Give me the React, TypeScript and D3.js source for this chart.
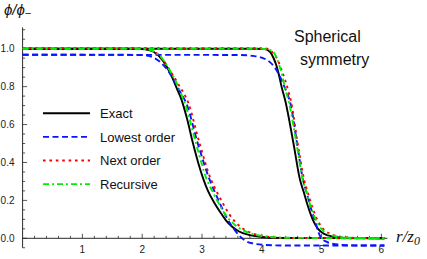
import React, { useEffect, useRef } from 'react'
import * as d3 from 'd3'

type Pt = [number, number]

// left group (smaller bubble)
const exactA: Pt[] = [[0, 1], [1.9, 1], [2.05, 0.997], [2.19, 0.984], [2.35, 0.935], [2.47, 0.87], [2.58, 0.79], [2.66, 0.729], [2.75, 0.63], [2.85, 0.5], [2.94, 0.395], [3.02, 0.315], [3.1, 0.25], [3.2, 0.19], [3.3, 0.14], [3.4, 0.095], [3.5, 0.062], [3.62, 0.036], [3.78, 0.018], [4.0, 0.007], [4.3, 0.002], [6.05, 0]]
const lowestA: Pt[] = [[0, 0.968], [2.0, 0.967], [2.1, 0.962], [2.19, 0.953], [2.3, 0.93], [2.41, 0.893], [2.53, 0.835], [2.63, 0.775], [2.74, 0.71], [2.93, 0.5], [3.13, 0.307], [3.22, 0.24], [3.32, 0.17], [3.42, 0.105], [3.52, 0.055], [3.62, 0.015], [3.72, -0.012], [3.85, -0.027], [4.05, -0.035], [4.4, -0.038], [6.05, -0.038]]
const nextA: Pt[] = [[0, 1.003], [2.0, 1.003], [2.1, 0.998], [2.24, 0.976], [2.35, 0.94], [2.46, 0.887], [2.6, 0.815], [2.77, 0.715], [2.96, 0.5], [3.15, 0.31], [3.24, 0.25], [3.34, 0.19], [3.45, 0.13], [3.56, 0.085], [3.7, 0.048], [3.88, 0.022], [4.1, 0.008], [4.4, 0.002], [6.05, 0]]
const recursiveA: Pt[] = [[0, 1], [1.95, 1], [2.05, 0.998], [2.19, 0.986], [2.33, 0.95], [2.44, 0.897], [2.55, 0.835], [2.66, 0.756], [2.71, 0.715], [2.9, 0.5], [3.08, 0.31], [3.17, 0.25], [3.27, 0.19], [3.38, 0.13], [3.5, 0.085], [3.64, 0.05], [3.82, 0.025], [4.05, 0.01], [4.4, 0.003], [6.05, 0]]

// right group (larger bubble)
const exactB: Pt[] = [[0, 1], [3.9, 1], [4.05, 0.998], [4.14, 0.982], [4.19, 0.955], [4.24, 0.915], [4.28, 0.87], [4.33, 0.8], [4.39, 0.729], [4.53, 0.5], [4.64, 0.307], [4.7, 0.245], [4.77, 0.17], [4.85, 0.1], [4.94, 0.05], [5.05, 0.022], [5.2, 0.009], [5.45, 0.002], [6.05, 0]]
const lowestB: Pt[] = [[0, 0.968], [3.6, 0.967], [3.85, 0.962], [3.97, 0.956], [4.07, 0.943], [4.14, 0.928], [4.22, 0.9], [4.3, 0.855], [4.37, 0.805], [4.43, 0.76], [4.48, 0.71], [4.59, 0.5], [4.69, 0.307], [4.75, 0.24], [4.82, 0.16], [4.89, 0.09], [4.95, 0.03], [5.0, -0.002], [5.07, -0.016], [5.14, -0.026], [5.36, -0.035], [5.6, -0.038], [6.05, -0.038]]
const nextB: Pt[] = [[0, 1.003], [4.0, 1.003], [4.11, 0.998], [4.19, 0.976], [4.28, 0.931], [4.33, 0.888], [4.39, 0.835], [4.445, 0.775], [4.49, 0.72], [4.6, 0.5], [4.71, 0.307], [4.77, 0.24], [4.85, 0.16], [4.94, 0.09], [5.04, 0.045], [5.17, 0.02], [5.35, 0.007], [5.6, 0.002], [6.05, 0]]
const recursiveB: Pt[] = [[0, 1], [3.95, 1], [4.1, 0.997], [4.2, 0.98], [4.25, 0.95], [4.3, 0.905], [4.34, 0.86], [4.39, 0.79], [4.445, 0.729], [4.58, 0.5], [4.685, 0.307], [4.75, 0.24], [4.82, 0.165], [4.9, 0.1], [4.99, 0.052], [5.1, 0.025], [5.25, 0.01], [5.5, 0.003], [6.05, 0]]

const legendLabels = ['Exact', 'Lowest order', 'Next order', 'Recursive']
const xTickValues = [1, 2, 3, 4, 5, 6]
const yTickValues = [0, 0.2, 0.4, 0.6, 0.8, 1.0]

const styles = [
  { color: '#000000', dash: '' },
  { color: '#0a14ff', dash: '6 3.5' },
  { color: '#ff0000', dash: '2.6 3.8' },
  { color: '#00ee00', dash: '6 3 2 3' }
]

const W = 427
const H = 259
const x = d3.scaleLinear().domain([0, 6.1]).range([22.6, 22.6 + 6.1 * 59.8])
const y = d3.scaleLinear().domain([0, 1]).range([238.3, 48.7])

const App = () => {
  const ref = useRef<SVGSVGElement>(null)

  useEffect(() => {
    const svg = d3.select(ref.current)
    svg.selectAll('*').remove()
    const axisColor = '#2b2b2b'
    const font = 'Liberation Sans, Arial, sans-serif'

    // axes
    const ax = svg.append('g')
    ax.append('line').attr('x1', x(0)).attr('x2', x(6.1)).attr('y1', y(0)).attr('y2', y(0))
      .attr('stroke', axisColor).attr('stroke-width', 1)
    ax.append('line').attr('x1', x(0)).attr('x2', x(0)).attr('y1', y(-0.05)).attr('y2', y(1.112))
      .attr('stroke', axisColor).attr('stroke-width', 1)

    const xMinor = d3.range(1, 31).map(i => i * 0.2)
    xMinor.forEach(v => {
      const major = Math.abs(v - Math.round(v)) < 1e-6
      ax.append('line').attr('x1', x(v)).attr('x2', x(v))
        .attr('y1', y(0)).attr('y2', y(0) - (major ? 4.5 : 2.5))
        .attr('stroke', axisColor).attr('stroke-width', 0.8)
    })
    const yMinor = d3.range(-1, 23).map(i => i * 0.05)
    yMinor.forEach(v => {
      const major = Math.abs(v * 5 - Math.round(v * 5)) < 1e-6
      ax.append('line').attr('y1', y(v)).attr('y2', y(v))
        .attr('x1', x(0)).attr('x2', x(0) + (major ? 4.5 : 2.5))
        .attr('stroke', axisColor).attr('stroke-width', 0.8)
    })
    xTickValues.forEach(v => {
      ax.append('text').attr('x', x(v)).attr('y', 253).attr('text-anchor', 'middle')
        .attr('font-family', font).attr('font-size', 10).attr('fill', '#222').text(String(v))
    })
    yTickValues.forEach(v => {
      ax.append('text').attr('x', 14.5).attr('y', y(v) + 3.6).attr('text-anchor', 'end')
        .attr('font-family', font).attr('font-size', 10).attr('fill', '#222').text(v.toFixed(1))
    })

    // curves
    const line = d3.line<Pt>().x(d => x(d[0])).y(d => y(d[1])).curve(d3.curveMonotoneX)
    const series = [[exactA, exactB], [lowestA, lowestB], [nextA, nextB], [recursiveA, recursiveB]]
    series.forEach((pair, i) => {
      pair.forEach(pts => {
        svg.append('path').attr('d', line(pts) as string).attr('fill', 'none')
          .attr('stroke', styles[i].color).attr('stroke-width', 1.9)
          .attr('stroke-dasharray', styles[i].dash || null)
      })
    })

    // legend
    legendLabels.forEach((lab, i) => {
      const ly = 113.3 + i * 23.6
      svg.append('line').attr('x1', 43).attr('x2', 90).attr('y1', ly).attr('y2', ly)
        .attr('stroke', styles[i].color).attr('stroke-width', 1.9)
        .attr('stroke-dasharray', styles[i].dash || null)
      svg.append('text').attr('x', 100).attr('y', ly + 4.8)
        .attr('font-family', font).attr('font-size', 13).attr('fill', '#111').text(lab)
    })

    // annotation
    svg.append('text').attr('x', 294).attr('y', 41.7).attr('font-family', font)
      .attr('font-size', 16).attr('fill', '#111').text('Spherical')
    svg.append('text').attr('x', 300).attr('y', 65).attr('font-family', font)
      .attr('font-size', 16).attr('fill', '#111').text('symmetry')

    // axis labels
    const yl = svg.append('text').attr('x', 4).attr('y', 15).attr('font-family', font)
      .attr('font-size', 15).attr('font-style', 'italic').attr('fill', '#111')
    yl.append('tspan').text('ϕ/ϕ')
    yl.append('tspan').attr('font-size', 11).attr('dy', 2).text('−')

    const xl = svg.append('text').attr('x', 396).attr('y', 242).attr('font-family', 'Liberation Serif, Times New Roman, serif')
      .attr('font-size', 17).attr('font-style', 'italic').attr('fill', '#111')
    xl.append('tspan').text('r/z')
    xl.append('tspan').attr('font-size', 12).attr('dy', 3).text('0')
  }, [])

  return (
    <svg ref={ref} width={W} height={H} style={{ position: 'fixed', left: 0, top: 0, background: '#fff' }} />
  )
}

export default App
